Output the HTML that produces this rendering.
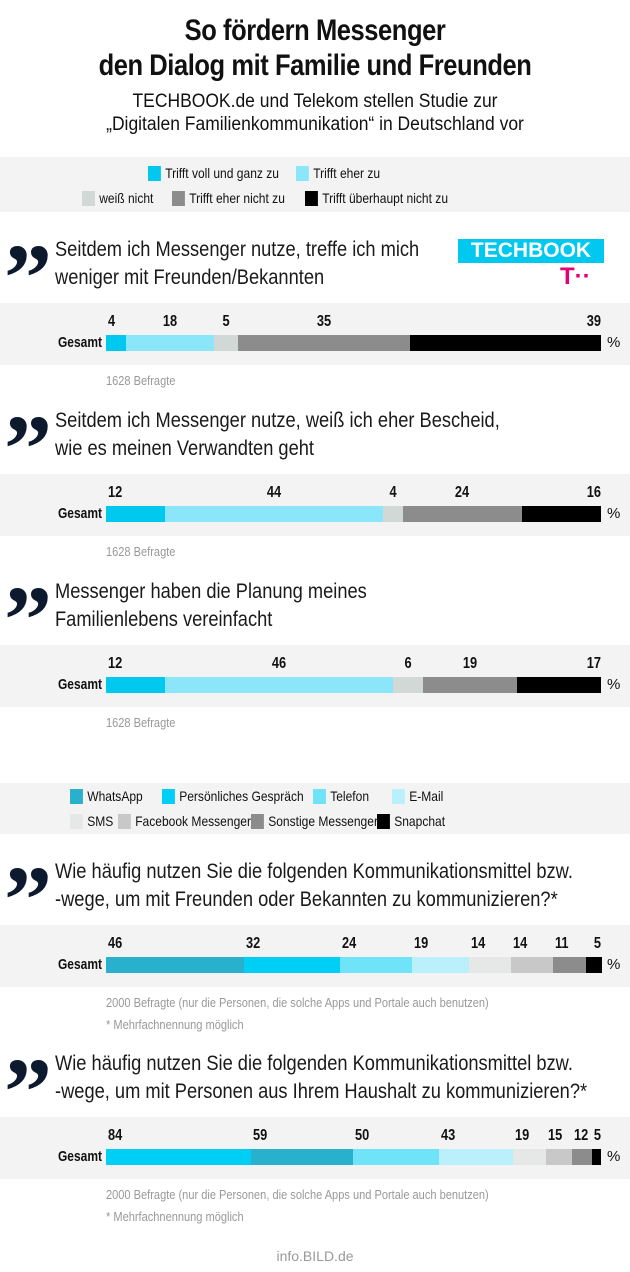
<!DOCTYPE html>
<html><head><meta charset="utf-8">
<style>
*{margin:0;padding:0;box-sizing:border-box}
body{width:630px;height:1272px;background:#fff;position:relative;overflow:hidden;font-family:"Liberation Sans Narrow","Liberation Sans",sans-serif;color:#111}
.a{position:absolute;white-space:nowrap}
.band{position:absolute;left:0;width:630px;background:#f3f3f3}
.title{left:0;width:630px;text-align:center;font-weight:bold;font-size:30px;letter-spacing:-0.5px;transform:scaleX(0.85)}
.sub{left:0;width:630px;text-align:center;font-size:19px;transform:scaleX(0.92)}
.q{font-size:21px;color:#1a1a1a;transform:scaleX(0.87);transform-origin:left top}
.qm{font-family:"Liberation Serif",serif;font-weight:bold;font-size:96px;color:#0d1a2e;line-height:1;left:4px}
.lg{font-size:14px;display:flex;align-items:center;transform:scaleX(0.86);transform-origin:left center}
.sw{width:15px;height:15px;display:inline-block;margin-right:5px}
.foot{font-size:13px;color:#999;transform:scaleX(0.85);transform-origin:left top}
.gs{font-weight:bold;font-size:15px;left:0;width:102px;text-align:right;transform:scaleX(0.8);transform-origin:right top}
.pct{font-size:15px;left:607px}
.lbl{font-weight:bold;font-size:16px;transform:scaleX(0.8)}
</style></head><body>
<div class="a title" style="top:14px">So fördern Messenger</div>
<div class="a title" style="top:49px">den Dialog mit Familie und Freunden</div>
<div class="a sub" style="top:91px">TECHBOOK.de und Telekom stellen Studie zur</div>
<div class="a sub" style="top:114px">„Digitalen Familienkommunikation“ in Deutschland vor</div>

<div class="band" style="top:157px;height:55px"></div>
<div class="a lg" style="left:148px;top:165px"><span class="sw" style="background:#00c8ee"></span>Trifft voll und ganz zu</div>
<div class="a lg" style="left:296px;top:165px"><span class="sw" style="background:#8ce6fa"></span>Trifft eher zu</div>
<div class="a lg" style="left:82px;top:190px"><span class="sw" style="background:#d2d8d6"></span>weiß nicht</div>
<div class="a lg" style="left:172px;top:190px"><span class="sw" style="background:#8c8c8c"></span>Trifft eher nicht zu</div>
<div class="a lg" style="left:305px;top:190px"><span class="sw" style="background:#000"></span>Trifft überhaupt nicht zu</div>

<div class="a" style="left:458px;top:239px;width:146px;height:24px;background:#00c8ee;color:#fff;font-family:'Liberation Sans',sans-serif;font-weight:bold;font-size:21px;text-align:center;line-height:24px">TECHBOOK</div>
<div class="a" style="left:560px;top:265px;color:#e20074;font-family:'Liberation Sans',sans-serif;font-weight:bold;font-size:24px;line-height:1">T··</div>

<div id="root"></div>

<div class="band" style="top:783px;height:51px"></div>
<div class="a lg" style="left:70px;top:788px"><span class="sw" style="background:#29b0cc"></span>WhatsApp</div>
<div class="a lg" style="left:162px;top:788px"><span class="sw" style="background:#00cff5"></span>Persönliches Gespräch</div>
<div class="a lg" style="left:313px;top:788px"><span class="sw" style="background:#6fe3f8"></span>Telefon</div>
<div class="a lg" style="left:392px;top:788px"><span class="sw" style="background:#baf0fb"></span>E-Mail</div>
<div class="a lg" style="left:70px;top:813px"><span class="sw" style="background:#e6e8e8"></span>SMS</div>
<div class="a lg" style="left:118px;top:813px"><span class="sw" style="background:#c8c8c8"></span>Facebook Messenger</div>
<div class="a lg" style="left:251px;top:813px"><span class="sw" style="background:#8c8c8c"></span>Sonstige Messenger</div>
<div class="a lg" style="left:377px;top:813px"><span class="sw" style="background:#000"></span>Snapchat</div>

<div class="a" style="left:0;width:630px;text-align:center;top:1248px;font-size:14px;color:#999">info.BILD.de</div>

<script>
const agreeColors=["#00c8ee","#8ce6fa","#d2d8d6","#8c8c8c","#000"];
const chanColors1=["#29b0cc","#00cff5","#6fe3f8","#baf0fb","#e6e8e8","#c8c8c8","#8c8c8c","#000"];
const chanColors2=["#00cff5","#29b0cc","#6fe3f8","#baf0fb","#e6e8e8","#c8c8c8","#8c8c8c","#000"];
const values1=[4,18,5,35,39];
const values2=[12,44,4,24,16];
const values3=[12,46,6,19,17];
const values4=[46,32,24,19,14,14,11,5];
const values5=[84,59,50,43,19,15,12,5];
const questions=[
 ["Seitdem ich Messenger nutze, treffe ich mich","weniger mit Freunden/Bekannten"],
 ["Seitdem ich Messenger nutze, weiß ich eher Bescheid,","wie es meinen Verwandten geht"],
 ["Messenger haben die Planung meines","Familienlebens vereinfacht"],
 ["Wie häufig nutzen Sie die folgenden Kommunikationsmittel bzw.","-wege, um mit Freunden oder Bekannten zu kommunizieren?*"],
 ["Wie häufig nutzen Sie die folgenden Kommunikationsmittel bzw.","-wege, um mit Personen aus Ihrem Haushalt zu kommunizieren?*"]
];
const footnotes=[["1628 Befragte"],["1628 Befragte"],["1628 Befragte"],
 ["2000 Befragte (nur die Personen, die solche Apps und Portale auch benutzen)","* Mehrfachnennung möglich"],
 ["2000 Befragte (nur die Personen, die solche Apps und Portale auch benutzen)","* Mehrfachnennung möglich"]];
const series=[values1,values2,values3,values4,values5];
const colors=[agreeColors,agreeColors,agreeColors,chanColors1,chanColors2];
const tops=[240,411,582,862,1054];
const X0=106,W=495;
const root=document.getElementById('root');
function el(cls,style,text){const d=document.createElement('div');d.className='a '+cls;d.style.cssText=style;if(text!=null)d.textContent=text;root.appendChild(d);return d;}
series.forEach((vals,i)=>{
 const t=tops[i];
 const qm=el('qm','top:'+(t-10)+'px','”');
 
 
 questions[i].forEach((line,j)=>{
  const q=el('q','left:55px;top:'+(t-2+j*28)+'px',line);
  
  
 });
 const bt=t+63;
 const band=el('band','top:'+bt+'px;height:62px');
 
 
 const g=el('gs','top:'+(bt+31)+'px','Gesamt');
 
 
 const p=el('pct','top:'+(bt+31)+'px','%');
 
 
 const total=vals.reduce((a,b)=>a+b,0);
 const sx=v=>v/total*W;
 let x=X0;
 vals.forEach((v,k)=>{
  const w=sx(v);
  const b=el('','left:'+x+'px;top:'+(bt+32)+'px;width:'+(w+0.5)+'px;height:16px;background:'+colors[i][k]);
  
  
  let lx,align='left',org='left top';
  if(k===vals.length-1){lx=X0+W-20;align='right';org='right top';}
  else if(i>=3||k===0){lx=x+2;}
  else {lx=x+w/2-10;align='center';org='center top';}
  const l=el('lbl','left:'+lx+'px;width:20px;text-align:'+align+';transform-origin:'+org+';top:'+(bt+10)+'px',String(v));
  
  
  x+=w;
 });
 footnotes[i].forEach((f,j)=>{
  const n=el('foot','left:106px;top:'+(bt+70+j*22)+'px',f);
  
  
 });
});
</script>
</body></html>
